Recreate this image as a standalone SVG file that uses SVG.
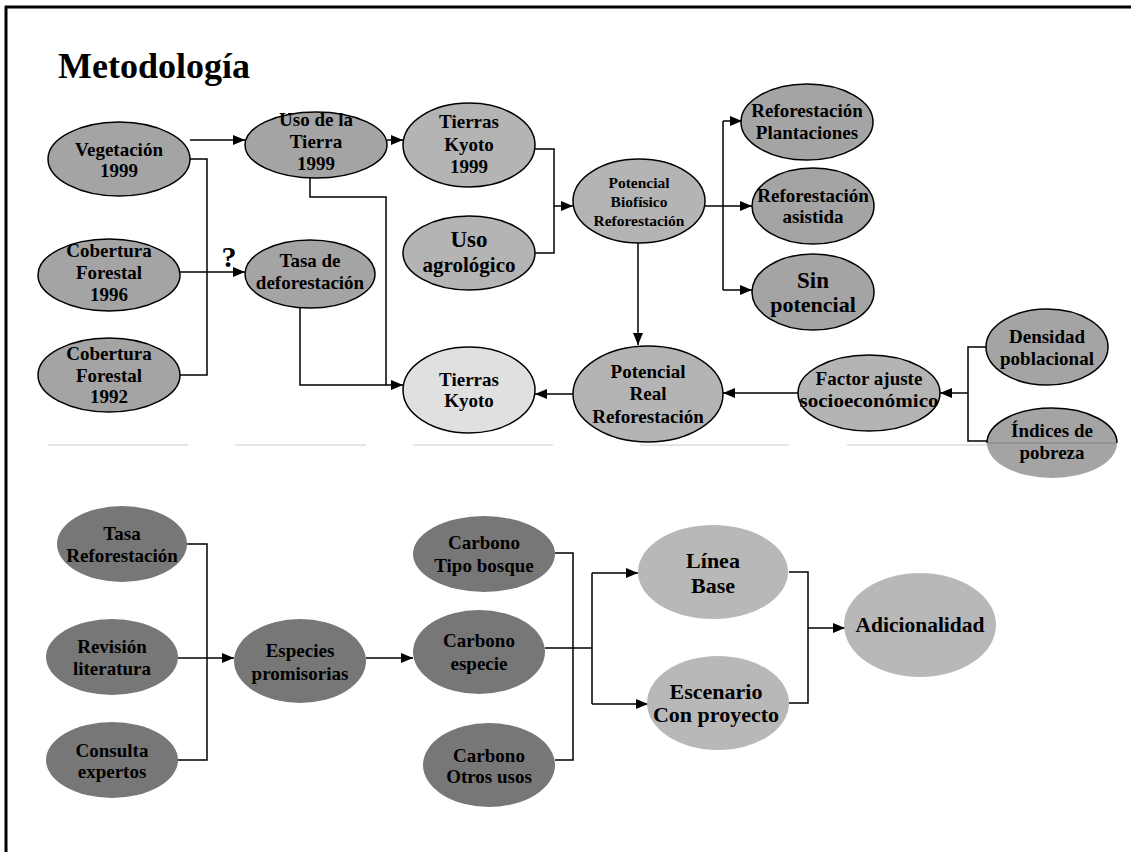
<svg xmlns="http://www.w3.org/2000/svg" width="1131" height="852" viewBox="0 0 1131 852">
<style>
text{font-family:"Liberation Serif","Times New Roman",serif;font-weight:bold;fill:#000;text-anchor:middle;font-size:19px}
.n1{fill:#a4a4a4;stroke:#000;stroke-width:1.5}
.n2{fill:#b4b4b4;stroke:#000;stroke-width:1.5}
.n3{fill:#e0e0e0;stroke:#000;stroke-width:1.5}
.d{fill:#777777}
.l{fill:#b8b8b8}
.c{fill:none;stroke:#000;stroke-width:1.5}
.a{marker-end:url(#ah)}
.sep{stroke:#dcdcdc;stroke-width:1.5}
</style>
<defs>
<marker id="ah" viewBox="0 0 12 10" refX="12" refY="5" markerWidth="12" markerHeight="10" markerUnits="userSpaceOnUse" orient="auto"><path d="M0,0 L12,5 L0,10 z" fill="#000"/></marker>
</defs>
<rect width="1131" height="852" fill="#fff"/>
<path d="M5,7 H1131 M6,6 V852" stroke="#000" stroke-width="3" fill="none"/>
<text x="58" y="78" style="text-anchor:start;font-size:36px">Metodología</text>
<g id="separator">
<path class="sep" d="M48,445 H188 M235,445 H366 M413,445 H553 M640,445 H789 M847,445 H990"/>
</g>
<g id="connectors">
<path class="c a" d="M190,140 H245"/>
<path class="c" d="M190,159 H207 V375 H180"/>
<path class="c a" d="M180,272 H245"/>
<path class="c a" d="M387,140 H403"/>
<path class="c" d="M310,178 V197 H386 V385"/>
<path class="c a" d="M300,308 V385 H403"/>
<path class="c" d="M535,149 H554 V253 H535"/>
<path class="c a" d="M554,206 H573"/>
<path class="c a" d="M704,206 H752"/>
<path class="c" d="M723,121 V290"/>
<path class="c a" d="M723,121 H742"/>
<path class="c a" d="M723,290 H752"/>
<path class="c a" d="M638,243 V345"/>
<path class="c a" d="M573,394 H535"/>
<path class="c a" d="M798,393 H723"/>
<path class="c a" d="M968,393 H940"/>
<path class="c" d="M987,347 H968 V441 H987"/>
<path class="c" d="M187,544 H207 V760 H178"/>
<path class="c a" d="M178,658 H234"/>
<path class="c a" d="M366,658 H413"/>
<path class="c" d="M555,553 H573 V760 H555"/>
<path class="c" d="M545,648 H592"/>
<path class="c" d="M592,573 V704"/>
<path class="c a" d="M592,573 H638"/>
<path class="c a" d="M592,704 H648"/>
<path class="c" d="M789,572 H808 V703 H789"/>
<path class="c a" d="M808,628 H845"/>
<text x="229" y="267" style="font-size:30px">?</text>
</g>
<g id="vegetacion"><ellipse class="n1" cx="119" cy="159" rx="71" ry="37"/><text x="119" y="156">Vegetación</text><text x="119" y="177">1999</text></g>
<g id="cobertura1996"><ellipse class="n1" cx="109" cy="275" rx="71" ry="36"/><text x="109" y="257">Cobertura</text><text x="109" y="279">Forestal</text><text x="109" y="301">1996</text></g>
<g id="cobertura1992"><ellipse class="n1" cx="109" cy="375" rx="71" ry="37"/><text x="109" y="360">Cobertura</text><text x="109" y="382">Forestal</text><text x="109" y="403">1992</text></g>
<g id="usotierra"><ellipse class="n1" cx="316" cy="145" rx="71" ry="33"/><text x="316" y="126">Uso de la</text><text x="316" y="148">Tierra</text><text x="316" y="170">1999</text></g>
<g id="tasadef"><ellipse class="n1" cx="310" cy="274" rx="65" ry="34"/><text x="310" y="267">Tasa de</text><text x="310" y="289">deforestación</text></g>
<g id="tierraskyoto1999"><ellipse class="n2" cx="469" cy="145" rx="66" ry="42"/><text x="469" y="128">Tierras</text><text x="469" y="151">Kyoto</text><text x="469" y="173">1999</text></g>
<g id="usoagro"><ellipse class="n2" cx="469" cy="253" rx="66" ry="37"/><text x="469" y="247" style="font-size:23px">Uso</text><text x="469" y="272" style="font-size:21px">agrológico</text></g>
<g id="potbio"><ellipse class="n2" cx="639" cy="201" rx="66" ry="42"/><text x="639" y="188" style="font-size:15.5px">Potencial</text><text x="639" y="207" style="font-size:15.5px">Biofísico</text><text x="639" y="226" style="font-size:15.5px">Reforestación</text></g>
<g id="refplant"><ellipse class="n1" cx="807" cy="122" rx="66" ry="38"/><text x="807" y="117">Reforestación</text><text x="807" y="139">Plantaciones</text></g>
<g id="refasist"><ellipse class="n1" cx="813" cy="206" rx="61" ry="38"/><text x="813" y="202">Reforestación</text><text x="813" y="223">asistida</text></g>
<g id="sinpot"><ellipse class="n1" cx="813" cy="292" rx="61" ry="38"/><text x="813" y="288" style="font-size:23px">Sin</text><text x="813" y="312" style="font-size:22px">potencial</text></g>
<g id="tierraskyoto"><ellipse class="n3" cx="469" cy="390" rx="66" ry="43"/><text x="469" y="386">Tierras</text><text x="469" y="407">Kyoto</text></g>
<g id="potreal"><ellipse class="n2" cx="648" cy="394" rx="75" ry="48"/><text x="648" y="378">Potencial</text><text x="648" y="400">Real</text><text x="648" y="423">Reforestación</text></g>
<g id="factor"><ellipse class="n2" cx="869" cy="393" rx="71" ry="38"/><text x="869" y="385">Factor ajuste</text><text x="869" y="407" textLength="139" lengthAdjust="spacingAndGlyphs">socioeconómico</text></g>
<g id="densidad"><ellipse class="n1" cx="1047" cy="347" rx="61" ry="38"/><text x="1047" y="343">Densidad</text><text x="1047" y="365">poblacional</text></g>
<g id="indices"><ellipse cx="1052" cy="443" rx="65" ry="35" fill="#a4a4a4"/><path d="M987,443 A65,35 0 0 1 1117,443" fill="none" stroke="#000" stroke-width="1.5"/><path d="M987,443 H1117" stroke="#808080" stroke-width="1"/><text x="1052" y="437">Índices de</text><text x="1052" y="459">pobreza</text></g>
<g id="tasaref"><ellipse class="d" cx="122" cy="544" rx="65" ry="38"/><text x="122" y="540">Tasa</text><text x="122" y="562">Reforestación</text></g>
<g id="revision"><ellipse class="d" cx="112" cy="657" rx="66" ry="38"/><text x="112" y="653">Revisión</text><text x="112" y="675">literatura</text></g>
<g id="consulta"><ellipse class="d" cx="112" cy="760" rx="66" ry="38"/><text x="112" y="757">Consulta</text><text x="112" y="778">expertos</text></g>
<g id="especies"><ellipse class="d" cx="300" cy="661" rx="66" ry="42"/><text x="300" y="657">Especies</text><text x="300" y="680">promisorias</text></g>
<g id="carbtipo"><ellipse class="d" cx="484" cy="554" rx="71" ry="38"/><text x="484" y="549">Carbono</text><text x="484" y="572">Tipo bosque</text></g>
<g id="carbesp"><ellipse class="d" cx="479" cy="652" rx="66" ry="42"/><text x="479" y="647">Carbono</text><text x="479" y="670">especie</text></g>
<g id="carbotros"><ellipse class="d" cx="489" cy="765" rx="66" ry="42"/><text x="489" y="762">Carbono</text><text x="489" y="783">Otros usos</text></g>
<g id="lineabase"><ellipse class="l" cx="713" cy="572" rx="75" ry="47"/><text x="713" y="568" style="font-size:22px">Línea</text><text x="713" y="593" style="font-size:22px">Base</text></g>
<g id="escenario"><ellipse class="l" cx="718" cy="703" rx="71" ry="47"/><text x="716" y="699" style="font-size:22px">Escenario</text><text x="716" y="722" style="font-size:22px">Con proyecto</text></g>
<g id="adicionalidad"><ellipse class="l" cx="920" cy="625" rx="76" ry="52"/><text x="920" y="632" style="font-size:21.5px">Adicionalidad</text></g>
</svg>
